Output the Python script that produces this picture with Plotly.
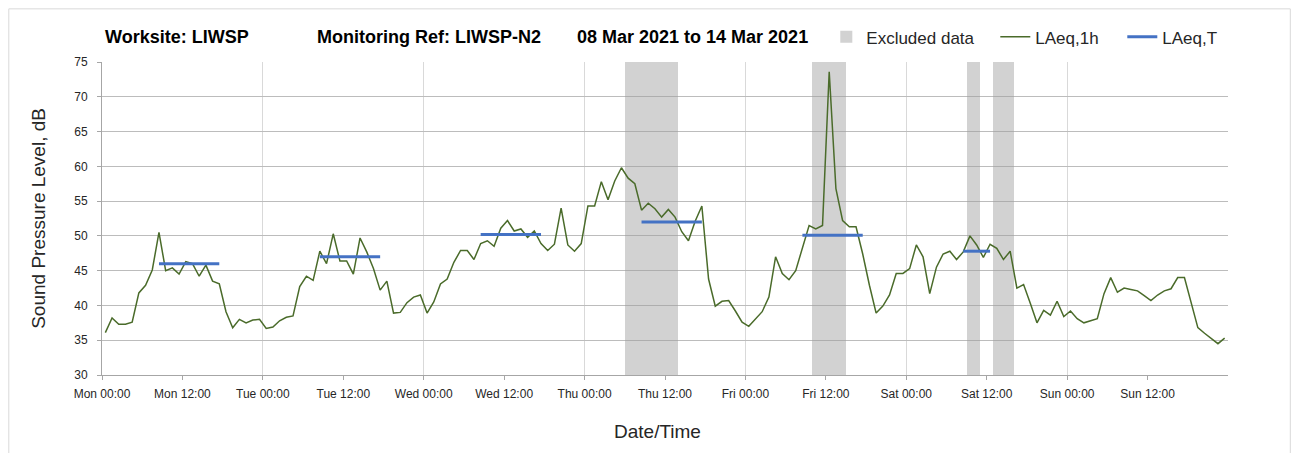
import pandas as pd
import plotly.graph_objects as go

# ---------------- data ----------------
start_time = "2021-03-08 00:30"
laeq_1h = [
    36.1, 38.2, 37.3, 37.3, 37.6, 41.8, 42.9, 45.1, 50.5, 45.0, 45.4, 44.5,
    46.3, 46.0, 44.2, 45.8, 43.5, 43.1, 39.1, 36.8, 38.0, 37.5, 37.9, 38.0,
    36.7, 36.9, 37.8, 38.3, 38.5, 42.7, 44.2, 43.6, 47.8, 46.0, 50.3, 46.4,
    46.4, 44.5, 49.7, 47.7, 45.3, 42.2, 43.5, 38.9, 39.0, 40.4, 41.2, 41.5,
    38.9, 40.5, 43.1, 43.8, 46.2, 47.9, 47.9, 46.6, 48.9, 49.3, 48.5, 51.1,
    52.2, 50.7, 51.0, 49.8, 50.7, 48.9, 47.9, 48.8, 54.0, 48.7, 47.8, 48.9,
    54.3, 54.3, 57.8, 55.2, 57.9, 59.8, 58.3, 57.5, 53.7, 54.7, 53.9, 52.7,
    53.8, 52.7, 50.6, 49.3, 52.1, 54.3, 43.8, 39.9, 40.6, 40.7, 39.2, 37.6,
    37.0, 38.0, 39.1, 41.2, 47.0, 44.6, 43.7, 45.0, 48.2, 51.5, 51.0, 51.5,
    73.6, 56.8, 52.2, 51.3, 51.3, 47.4, 42.9, 38.9, 39.9, 41.5, 44.6, 44.6,
    45.3, 48.7, 47.0, 41.7, 45.5, 47.4, 47.8, 46.6, 47.7, 50.0, 48.7, 46.9,
    48.8, 48.2, 46.6, 47.8, 42.5, 43.0, 40.3, 37.5, 39.3, 38.6, 40.6, 38.4,
    39.2, 38.1, 37.5, 37.8, 38.1, 41.7, 44.0, 41.9, 42.5, 42.3, 42.1, 41.4,
    40.7, 41.5, 42.1, 42.4, 44.0, 44.0, 40.5, 36.8, 36.0, 35.2, 34.5, 35.3,
]

# LAeq,T periods (first and last hourly sample of each period) and values
period_first = ["2021-03-08 08:30", "2021-03-09 08:30", "2021-03-10 08:30",
                "2021-03-11 08:30", "2021-03-12 08:30", "2021-03-13 08:30"]
period_last = ["2021-03-08 17:30", "2021-03-09 17:30", "2021-03-10 17:30",
               "2021-03-11 17:30", "2021-03-12 17:30", "2021-03-13 12:30"]
laeq_t = [46.0, 47.0, 50.2, 52.0, 50.1, 47.8]

# Excluded data periods
excl_start = ["2021-03-11 06:00", "2021-03-12 10:00", "2021-03-13 09:00", "2021-03-13 13:00"]
excl_end = ["2021-03-11 14:00", "2021-03-12 15:00", "2021-03-13 11:00", "2021-03-13 16:00"]

tick_labels = ["Mon 00:00", "Mon 12:00", "Tue 00:00", "Tue 12:00", "Wed 00:00",
               "Wed 12:00", "Thu 00:00", "Thu 12:00", "Fri 00:00", "Fri 12:00",
               "Sat 00:00", "Sat 12:00", "Sun 00:00", "Sun 12:00"]
x_range = ["2021-03-08 00:00", "2021-03-15 00:00"]
y_range = [30, 75]

# ---------------- figure ----------------
times = pd.date_range(start_time, periods=len(laeq_1h), freq="h")
tick_vals = pd.date_range(x_range[0], periods=len(tick_labels), freq="12h")

es = pd.to_datetime(excl_start)
ee = pd.to_datetime(excl_end)
excl_mid = es + (ee - es) / 2
excl_width = [(b - a).total_seconds() * 1000 for a, b in zip(es, ee)]

tx, ty = [], []
for a, b, v in zip(period_first, period_last, laeq_t):
    tx += [a, b, None]
    ty += [v, v, None]

FONT = "Liberation Sans, Arial, sans-serif"
fig = go.Figure()
fig.add_trace(go.Bar(
    x=excl_mid, y=[y_range[1] - y_range[0]] * len(excl_mid), base=y_range[0],
    width=excl_width, marker=dict(color="rgba(160,160,160,0.47)", line=dict(width=0)),
    name="Excluded data", hoverinfo="skip", legend="legend"))
fig.add_trace(go.Scatter(
    x=times, y=laeq_1h, mode="lines", name="LAeq,1h",
    line=dict(color="#4A6B2A", width=1.5), legend="legend2"))
fig.add_trace(go.Scatter(
    x=tx, y=ty, mode="lines", name="LAeq,T",
    line=dict(color="#4472C4", width=3), legend="legend3"))

# page has an 8px body margin: figure coords = page coords - 8
OFF = 8
W, H = 1285, 445
L, T = 101.7 - OFF, 61.7 - OFF
R = W - (1227.7 - OFF)
B = H - (375 - OFF)
pw, ph = W - L - R, H - T - B
def px(x):  # page x -> paper
    return (x - OFF - L) / pw
def py(y):  # page y -> paper
    return (H - B - (y - OFF)) / ph

def leg(xpage):
    return dict(orientation="h", x=px(xpage), xanchor="left", y=py(37), yanchor="middle",
                font=dict(size=17, family=FONT, color="#262626"),
                bgcolor="rgba(0,0,0,0)")

fig.update_layout(
    width=W, height=H,
    margin=dict(l=L, r=R, t=T, b=B, autoexpand=False),
    paper_bgcolor="white", plot_bgcolor="white",
    font=dict(family=FONT, color="#262626", size=12),
    showlegend=True,
    legend=leg(826), legend2=leg(995), legend3=leg(1122),
    bargap=0,
    xaxis=dict(type="date", range=x_range, tickmode="array", tickvals=tick_vals,
               ticktext=tick_labels, showgrid=False, ticks="outside", ticklen=4,
               ticklabelstandoff=4,
               tickcolor="#a6a6a6", showline=True, linecolor="#a6a6a6", linewidth=1,
               tickfont=dict(size=12, color="#262626"), zeroline=False,
               minor=dict(tickmode="linear", tick0=x_range[0], dtick=86400000,
                          showgrid=True, gridcolor="#d9d9d9", gridwidth=1, ticks="")),
    yaxis=dict(range=y_range, dtick=5, tick0=30, showgrid=True, gridcolor="#bcbcbc",
               gridwidth=1, ticks="outside", ticklen=4, tickcolor="#a6a6a6",
               ticklabelstandoff=7,
               showline=True, linecolor="#a6a6a6", linewidth=1, zeroline=False,
               tickfont=dict(size=12, color="#262626")),
)

# chart border (bottom edge lies below the visible window)
fig.add_shape(type="rect", xref="paper", yref="paper",
              x0=px(8.5), x1=px(1290), y0=py(470), y1=py(8.5),
              line=dict(color="#d9d9d9", width=1), fillcolor="rgba(0,0,0,0)", layer="below")

title_font = dict(family=FONT, size=18, color="black")
for text, xl in [("<b>Worksite: LIWSP</b>", 103), ("<b>Monitoring Ref: LIWSP-N2</b>", 315),
                 ("<b>08 Mar 2021 to 14 Mar 2021</b>", 575)]:
    fig.add_annotation(text=text, xref="paper", yref="paper", x=px(xl), y=py(37),
                       xanchor="left", yanchor="middle", showarrow=False, font=title_font)

fig.add_annotation(text="Sound Pressure Level, dB", xref="paper", yref="paper",
                   x=px(38), y=0.5, textangle=-90, showarrow=False,
                   xanchor="center", yanchor="middle",
                   font=dict(family=FONT, size=19, color="#262626"))
fig.add_annotation(text="Date/Time", xref="paper", yref="paper",
                   x=px(657), y=py(432), showarrow=False, xanchor="center", yanchor="middle",
                   font=dict(family=FONT, size=19, color="#262626"))

fig.write_html("out.html")
